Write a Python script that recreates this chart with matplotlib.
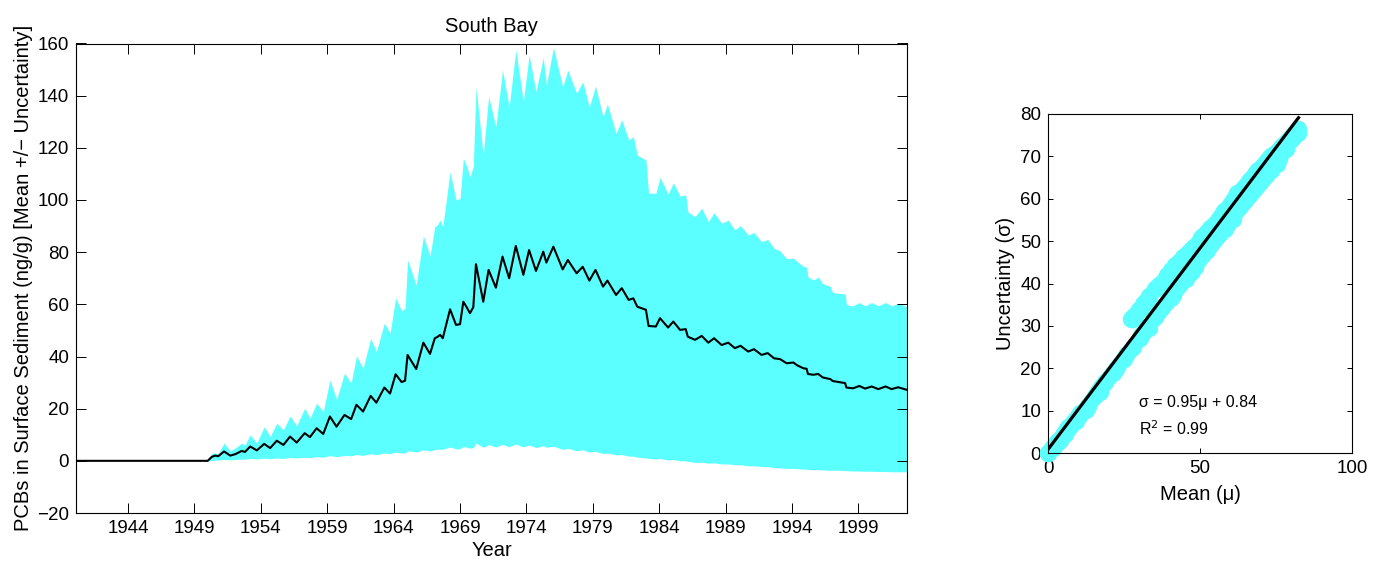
import numpy as np
import matplotlib
matplotlib.use("Agg")
import matplotlib.pyplot as plt

plt.rcParams['font.family'] = ['Liberation Sans', 'DejaVu Sans']

# ---- data (decimal year, mean, mean+sigma, mean-sigma) ----
t = [1940.0, 1950.0, 1950.3, 1950.55, 1950.8, 1951.23, 1951.7, 1952.1, 1952.56, 1952.8,
     1953.2, 1953.7, 1954.25, 1954.7, 1955.2, 1955.7, 1956.2, 1956.7, 1957.3, 1957.7,
     1958.2, 1958.7, 1959.2, 1959.7, 1960.3, 1960.8, 1961.2, 1961.7, 1962.27, 1962.7,
     1963.3, 1963.73, 1964.15, 1964.6, 1964.86, 1965.05, 1965.7, 1966.24, 1966.74, 1967.1,
     1967.3, 1967.5, 1967.7, 1968.25, 1968.7, 1969.0, 1969.25, 1969.5, 1969.75, 1970.0,
     1970.2, 1970.75, 1971.15, 1971.7, 1972.2, 1972.7, 1973.2, 1973.77, 1974.2, 1974.72,
     1975.27, 1975.5, 1976.03, 1976.73, 1977.12, 1977.78, 1978.24, 1978.74, 1979.2, 1979.77,
     1980.1, 1980.75, 1981.18, 1981.7, 1982.05, 1982.35, 1983.0, 1983.2, 1983.75, 1984.06,
     1984.67, 1985.06, 1985.57, 1986.0, 1986.15, 1986.7, 1987.2, 1987.7, 1988.13, 1988.7,
     1989.2, 1989.7, 1990.12, 1990.7, 1991.14, 1991.71, 1992.17, 1992.65, 1993.1, 1993.6,
     1994.1, 1994.4, 1994.85, 1995.1, 1995.2, 1995.6, 1995.98, 1996.3, 1996.9, 1997.06,
     1998.0, 1998.1, 1998.6, 1999.07, 1999.5, 2000.0, 2000.5, 2001.05, 2001.5, 2002.0,
     2002.66]

mean = [0, 0, 1.5, 2.0, 1.8, 3.6, 2.0, 2.6, 3.8, 3.4,
        5.5, 4.0, 6.5, 4.9, 7.7, 6.1, 9.3, 7.0, 10.6, 9.1,
        12.5, 10.3, 17.0, 13.1, 17.6, 16.0, 21.5, 18.9, 24.9, 22.3,
        28.1, 25.8, 33.2, 30.2, 30.7, 40.6, 35.2, 45.3, 41.0, 47.0,
        47.5, 48.3, 47.0, 58.1, 52.1, 52.4, 61.0, 58.9, 56.6, 58.9,
        75.4, 61.0, 73.2, 66.4, 78.3, 70.0, 82.4, 71.3, 80.8, 72.8,
        80.2, 76.0, 82.1, 73.4, 77.0, 71.9, 74.4, 69.1, 73.2, 66.8,
        69.1, 63.6, 66.2, 61.7, 62.3, 59.1, 57.9, 51.7, 51.5, 54.7,
        51.1, 53.4, 50.2, 50.5, 47.6, 46.4, 47.9, 45.3, 47.0, 44.4,
        45.3, 43.2, 44.1, 41.9, 42.8, 40.6, 41.3, 39.3, 39.0, 37.4,
        37.7, 36.6, 35.5, 35.3, 33.3, 33.0, 33.3, 32.0, 31.3, 30.6,
        29.8, 28.1, 27.8, 28.7, 27.7, 28.5, 27.5, 28.5, 27.5, 28.2,
        27.2]

upper = [0, 0, 2.9, 3.0, 2.8, 6.8, 3.8, 5.0, 6.8, 6.0,
         10.0, 6.8, 13.1, 9.3, 14.4, 11.9, 17.2, 13.4, 20.2, 16.4,
         22.1, 18.9, 31.0, 23.6, 33.6, 29.8, 40.2, 35.5, 47.0, 41.9,
         52.8, 48.9, 62.5, 57.5, 58.5, 77.0, 67.4, 86.2, 78.5, 89.8,
         90.5, 92.3, 89.8, 110.8, 100.0, 100.6, 116.0, 113.0, 108.9, 113.0,
         143.2, 117.2, 139.6, 128.1, 149.8, 135.7, 157.5, 137.7, 155.6, 141.5,
         154.7, 144.0, 158.5, 143.4, 149.8, 140.9, 145.3, 135.7, 143.7, 131.9,
         136.8, 125.5, 130.7, 123.0, 124.3, 117.2, 115.3, 102.6, 102.6, 108.7,
         102.3, 106.6, 101.5, 101.9, 95.5, 93.6, 96.8, 91.7, 95.1, 91.1,
         92.3, 88.5, 90.2, 86.6, 87.5, 84.0, 84.9, 81.5, 80.5, 77.5,
         77.7, 76.4, 74.6, 74.2, 70.6, 69.3, 70.4, 68.0, 66.8, 64.5,
         64.0, 59.8, 59.4, 60.7, 59.4, 60.7, 59.4, 60.7, 59.4, 60.4,
         59.1]

lower = [0, 0, 0.1, 0.3, 0.3, 0.5, 0.4, 0.5, 0.7, 0.6,
         0.9, 0.7, 1.0, 0.8, 1.1, 0.9, 1.3, 1.1, 1.4, 1.2,
         1.6, 1.4, 2.0, 1.6, 2.1, 1.9, 2.4, 2.1, 2.7, 2.4,
         3.0, 2.7, 3.4, 3.0, 3.0, 3.8, 3.4, 4.2, 3.8, 4.3,
         4.4, 4.5, 4.4, 5.3, 4.6, 4.6, 5.5, 5.2, 4.9, 5.0,
         6.8, 5.2, 6.2, 5.3, 6.3, 5.4, 6.5, 5.3, 6.1, 5.1,
         5.8, 5.2, 5.6, 4.4, 4.8, 3.9, 4.2, 3.4, 3.6, 2.8,
         3.0, 2.3, 2.4, 1.8, 1.8, 1.4, 1.1, 0.9, 0.7, 0.9,
         0.3, 0.5, 0.0, 0.0, -0.2, -0.6, -0.5, -0.9, -0.8, -1.2,
         -1.2, -1.5, -1.5, -1.9, -1.9, -2.2, -2.2, -2.6, -2.7, -2.9,
         -2.9, -3.0, -3.2, -3.2, -3.3, -3.4, -3.4, -3.5, -3.6, -3.6,
         -3.7, -3.8, -3.9, -3.9, -4.0, -4.0, -4.1, -4.1, -4.2, -4.2,
         -4.2]

year_ticks = [1944, 1949, 1954, 1959, 1964, 1969, 1974, 1979, 1984, 1989, 1994, 1999]
fit_slope = 0.95
fit_intercept = 0.84
fit_r2 = 0.99

# ---- derived ----
t = np.array(t)
mean = np.array(mean)
upper = np.array(upper)
lower = np.array(lower)
sigma = (upper - lower) / 2.0

CYAN = '#5cffff'
FS = 13.5
LFS = 14.5

fig = plt.figure(figsize=(13.74, 5.64), dpi=100)

# ---- left panel ----
ax = fig.add_axes([76/1374, 1-513/564, 831/1374, 469.5/564])
ax.fill_between(t, lower, upper, color=CYAN, linewidth=0)
ax.plot(t, mean, color='black', linewidth=1.5)
ax.set_xlim(1940.08, 2002.66)
ax.set_ylim(-20, 160)
ax.set_xticks(year_ticks)
ax.set_yticks(np.arange(-20, 161, 20))
ax.tick_params(direction='in', top=True, right=True, length=7, width=0.7,
               labelsize=FS, pad=5)
for s in ax.spines.values():
    s.set_linewidth(0.8)
ax.set_title('South Bay', fontsize=LFS, pad=8)
ax.set_xlabel('Year', fontsize=LFS, labelpad=3)
ax.set_ylabel('PCBs in Surface Sediment (ng/g) [Mean +/\u2212 Uncertainty]', fontsize=LFS, labelpad=3)

# ---- right panel ----
bx = fig.add_axes([1048/1374, 1-453/564, 304/1374, 339/564])
bx.plot(mean, sigma, color=CYAN, linewidth=11, marker='o', markersize=11.5,
        solid_capstyle='round', solid_joinstyle='round', clip_on=False, zorder=2)
xf = np.array([mean.min(), mean.max()])
bx.plot(xf, fit_slope * xf + fit_intercept, color='black', linewidth=2.3, zorder=3)
bx.set_xlim(0, 100)
bx.set_ylim(0, 80)
bx.set_xticks([0, 50, 100])
bx.set_yticks(np.arange(0, 81, 10))
bx.tick_params(direction='in', top=True, right=True, length=3.5, width=0.7,
               labelsize=FS, pad=5)
for s in bx.spines.values():
    s.set_linewidth(0.8)
bx.set_xlabel('Mean (\u03bc)', fontsize=LFS, labelpad=6)
bx.set_ylabel('Uncertainty (\u03c3)', fontsize=LFS, labelpad=4)
bx.text(30, 11.8, '\u03c3 = %.2f\u03bc + %.2f' % (fit_slope, fit_intercept),
        fontsize=11.5, va='center', ha='left')
bx.text(30, 5.8, 'R$^2$ = %.2f' % fit_r2, fontsize=11.5, va='center', ha='left')

fig.savefig('out.png', dpi=100)
